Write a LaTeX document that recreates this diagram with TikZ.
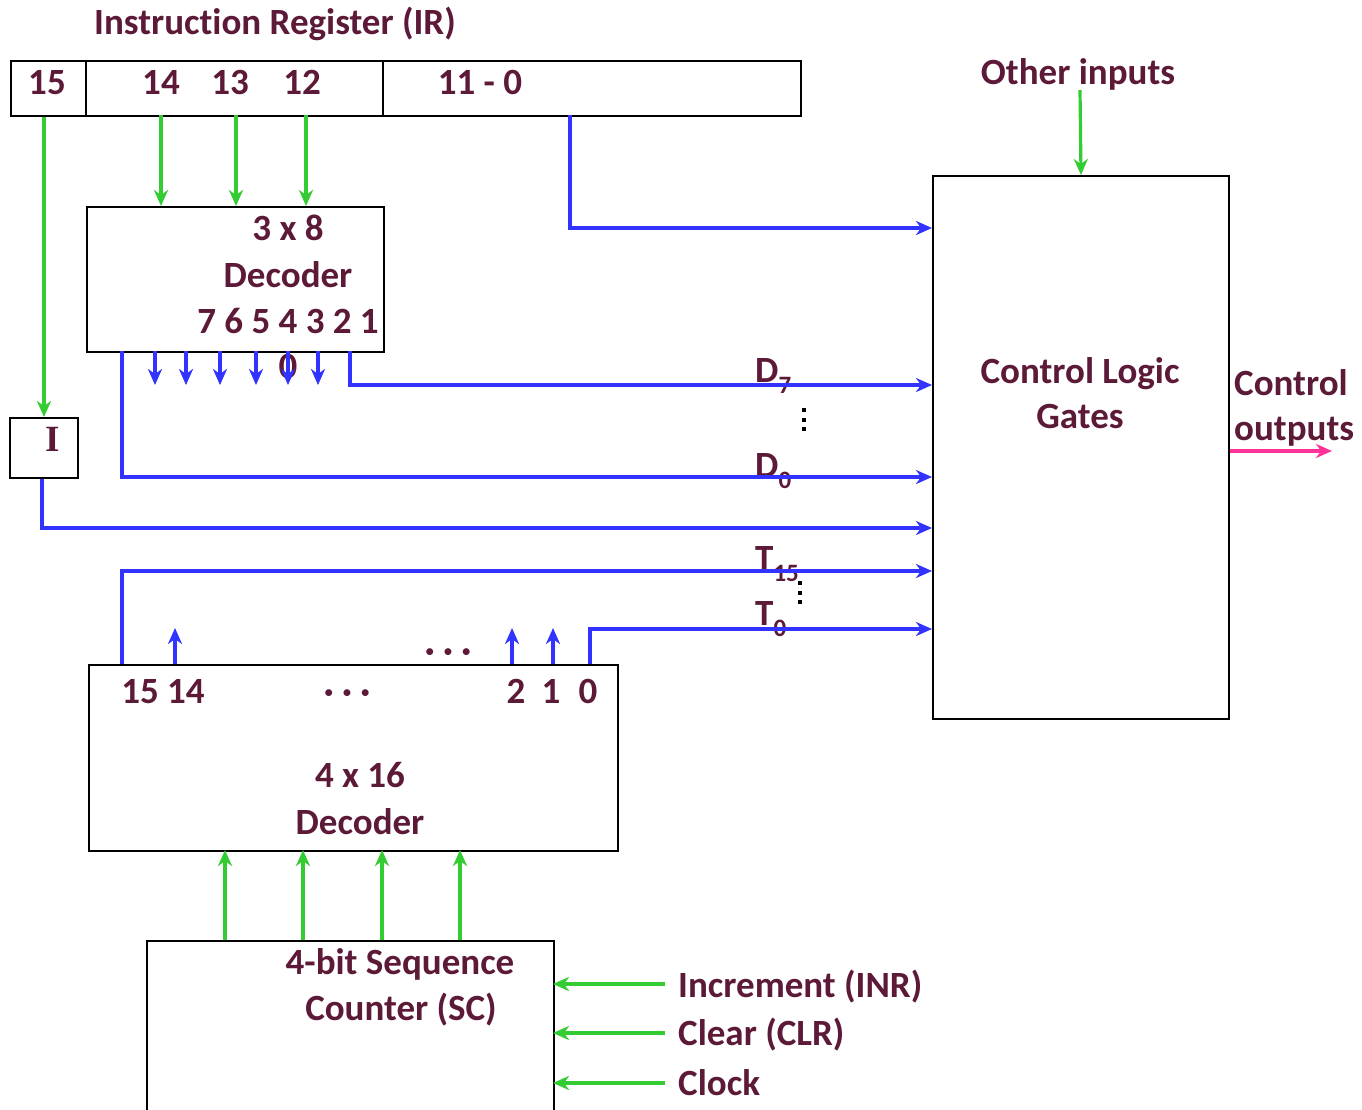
\documentclass[tikz,border=0pt]{standalone}
\usepackage{fontspec}
\setmainfont[Ligatures=NoCommon]{Carlito}
\newfontfamily\serifb{Liberation Serif}
\usetikzlibrary{arrows.meta}
\definecolor{txt}{RGB}{92,26,56}
\definecolor{blu}{RGB}{51,51,255}
\definecolor{grn}{RGB}{51,204,51}
\definecolor{pnk}{RGB}{255,51,153}
\newcommand{\subx}[1]{\raisebox{-0.3em}{\fontsize{25}{25}\selectfont #1}}
\begin{document}
\begin{tikzpicture}[x=1pt,y=-1pt,
  box/.style={draw=black,line width=2pt,inner sep=0pt,anchor=north west},
  lbl/.style={text=txt,font=\fontsize{37}{40}\selectfont\bfseries,inner sep=0pt,anchor=base},
  lblw/.style={lbl,anchor=base west},
  bl/.style={draw=blu,line width=3.2pt},
  gr/.style={draw=grn,line width=3.2pt},
  tip/.style={-{Stealth[length=16pt,width=14pt,inset=5pt]}}
]
\useasboundingbox (0,0) rectangle (1362,1109);

% boxes
\node[box,minimum width=790pt,minimum height=55pt] (ir) at (10,60) {};
\draw[line width=2pt] (86,60) -- (86,115);
\draw[line width=2pt] (383,60) -- (383,115);
\node[box,minimum width=297pt,minimum height=145pt] (dec) at (86,206) {};
\node[box,minimum width=68pt,minimum height=60pt] (ib) at (9,417) {};
\node[box,minimum width=296pt,minimum height=543pt] (clg) at (932,175) {};
\node[box,minimum width=529pt,minimum height=186pt] (dec4) at (88,664) {};
\node[box,minimum width=407pt,minimum height=220pt] (sc) at (146,940) {};

% texts
\node[lbl] (tir) at (275,34) {Instruction Register (IR)};
\node[lbl] (t15) at (47,94) {15};
\node[lbl] (t14) at (161,94) {14};
\node[lbl] (t13) at (230,94) {13};
\node[lbl] (t12) at (302,94) {12};
\node[lbl] (t110) at (480,94) {11 - 0};
\node[lbl] (d38a) at (288,240) {3 x 8};
\node[lbl] (d38b) at (288,287) {Decoder};
\node[lbl] (d38c) at (288,333) {7 6 5 4 3 2 1};
\node[lbl] (d38z) at (288,378) {0};
\node[lbl,font=\fontsize{37}{40}\selectfont\serifb\bfseries] (ti) at (53,451) {I};
\node[lblw] (td7) at (755,382) {D\subx{7}};
\node[lblw] (td0) at (755,477) {D\subx{0}};
\node[lblw] (tt15) at (755,570) {T\subx{15}};
\node[lblw] (tt0) at (755,625) {T\subx{0}};
\node[lbl] (tcl1) at (1080,383) {Control Logic};
\node[lbl] (tcl2) at (1080,428) {Gates};
\node[lbl] (toi) at (1078,84) {Other inputs};
\node[lblw] (tco1) at (1234,395) {Control};
\node[lblw] (tco2) at (1234,440) {outputs};
\node[lbl] (n1514) at (163,703) {15 14};
\node[lbl] (ndots) at (347,703) {· · ·};
\node[lbl] (ndots2) at (448,662) {· · ·};
\node[lbl] (n2) at (516,703) {2};
\node[lbl] (n1) at (551,703) {1};
\node[lbl] (n0) at (588,703) {0};
\node[lbl] (d416a) at (360,787) {4 x 16};
\node[lbl] (d416b) at (360,834) {Decoder};
\node[lbl] (sca) at (400,974) {4-bit Sequence};
\node[lbl] (scb) at (401,1020) {Counter (SC)};
\node[lblw] (tinr) at (678,997) {Increment (INR)};
\node[lblw] (tclr) at (678,1045) {Clear (CLR)};
\node[lblw] (tclk) at (678,1095) {Clock};

% vertical dots
\foreach \yy in {410,420,429} \fill[black] (802,\yy-2) rectangle (806,\yy+2);
\foreach \yy in {583,593,602} \fill[black] (798,\yy-2) rectangle (802,\yy+2);

% green connectors from IR
\draw[gr,tip] (ib.north |- ir.south) -- (ib.north);
\foreach \xx/\nm in {161/a,236/b,306/c}{
  \coordinate (gs\nm) at (\xx,115);
  \coordinate (ge\nm) at (\xx,206);
  \draw[gr,tip] (gs\nm) -- (ge\nm);
}
% other inputs
\coordinate (oi) at (1080,90);
\draw[gr,tip] (oi) -- (clg.north);

% blue: 11-0
\coordinate (b11) at (570,115);
\coordinate (c11) at (932,228);
\draw[bl,tip] (b11) |- (c11);
% D7
\coordinate (b7) at (350,351);
\coordinate (c7) at (932,385);
\draw[bl,tip] (b7) |- (c7);
% D0
\coordinate (b0) at (122,351);
\coordinate (c0) at (932,477);
\draw[bl,tip] (b0) |- (c0);
% I
\coordinate (ci) at (932,528);
\draw[bl,tip] (ib.south -| 42,0) |- (ci);
% T15
\coordinate (bt15) at (122,664);
\coordinate (ct15) at (932,571);
\draw[bl,tip] (bt15) |- (ct15);
% T0
\coordinate (bt0) at (590,664);
\coordinate (ct0) at (932,629);
\draw[bl,tip] (bt0) |- (ct0);

% decoder outputs (down)
\foreach \xx [count=\i] in {155,186,220,256,288,318}{
  \coordinate (ds\i) at (\xx,351);
  \coordinate (de\i) at (\xx,385);
  \draw[bl,tip] (ds\i) -- (de\i);
}
% 4x16 outputs (up)
\foreach \xx [count=\i] in {175,512,553}{
  \coordinate (us\i) at (\xx,664);
  \coordinate (ue\i) at (\xx,628);
  \draw[bl,tip] (us\i) -- (ue\i);
}
% SC to decoder
\foreach \xx [count=\i] in {225,303,382,460}{
  \coordinate (ss\i) at (\xx,940);
  \coordinate (se\i) at (\xx,850);
  \draw[gr,tip] (ss\i) -- (se\i);
}
% inputs to SC
\foreach \yy [count=\i] in {984,1033,1083}{
  \coordinate (is\i) at (665,\yy);
  \coordinate (ie\i) at (553,\yy);
  \draw[gr,tip] (is\i) -- (ie\i);
}
% control outputs
\coordinate (co) at (1332,451);
\draw[draw=pnk,line width=3.2pt,tip] (clg.east |- co) -- (co);
\end{tikzpicture}
\end{document}
